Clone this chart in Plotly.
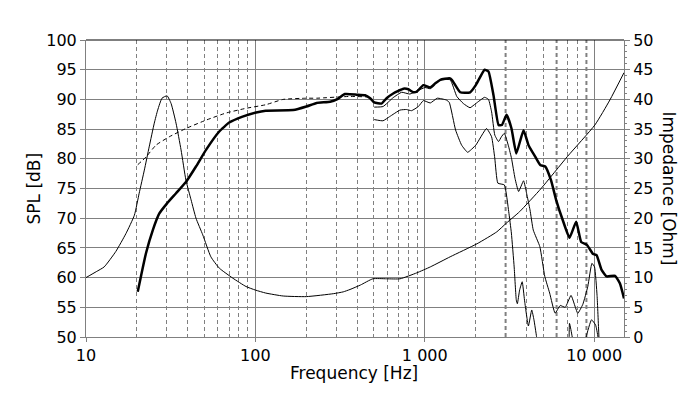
import math
import plotly.graph_objects as go

# ---------------- data ----------------
# Impedance curve (right axis, Ohm)
imp_f = [10, 11.5, 12.8, 15.0, 17.2, 19.3, 20.6, 22.1, 23.6, 25.3, 26.5, 28.1, 30.1, 31.8,
         34.0, 36.4, 38.9, 41.7, 44.6, 48.9, 54.6, 61.2, 73.6, 88, 100, 115, 146, 200,
         290, 330, 362, 417, 494, 595, 714, 897, 1078, 1412, 2035, 2660, 3040, 3630,
         4860, 6960, 10100, 12380, 15000]
imp_z = [10.0, 11.0, 11.8, 14.4, 17.4, 20.5, 24.2, 28.1, 32.0, 36.0, 38.2, 40.2, 40.6, 39.3,
         36.0, 31.5, 26.4, 23.1, 20.0, 17.2, 13.5, 11.6, 9.9, 8.5, 7.9, 7.4, 6.9, 6.8,
         7.3, 7.6, 8.0, 8.75, 9.8, 9.8, 9.8, 10.8, 11.8, 13.5, 15.7, 17.7, 19.2, 21.1,
         25.0, 30.4, 35.7, 39.9, 44.5]

# On-axis SPL (thick)
spl_f = [20.2, 21.1, 22.6, 24.8, 27.1, 30.1, 34, 38.9, 44.6, 51.1, 61.2, 70.1, 84, 101,
         115, 167, 200, 230, 276, 303, 338, 397, 444, 476, 503, 556, 595, 651, 748, 800,
         856, 897, 981, 1078, 1154, 1235, 1395, 1445, 1618, 1854, 2000, 2255, 2377, 2545,
         2725, 2853, 3040, 3250, 3470, 3828, 4098, 4487, 4805, 5140, 5560, 5960, 6520,
         7150, 7830, 8380, 9060, 9860, 10330, 11060, 11850, 13280, 14200, 15000]
spl_db = [57.6, 60.2, 64.1, 68.0, 70.8, 72.5, 74.2, 76.1, 78.7, 81.5, 84.6, 86.1, 87.1, 87.8,
          88.1, 88.2, 88.8, 89.4, 89.6, 90.0, 90.9, 90.8, 90.7, 90.2, 89.5, 89.3, 90.2, 91.0,
          91.8, 91.7, 91.2, 91.3, 92.4, 92.0, 92.7, 93.3, 93.55, 93.3, 91.2, 91.2, 92.4,
          95.0, 94.7, 90.7, 85.7, 85.7, 87.4, 85.1, 80.9, 84.8, 82.3, 80.35, 78.95, 78.7,
          76.4, 73.1, 69.7, 66.7, 69.4, 66.0, 65.5, 63.97, 63.8, 61.3, 60.2, 60.3, 59.0,
          56.5]

# Simulated / corrected low-frequency SPL (dashed)
sim_f = [20.2, 22.6, 25.9, 31, 38.9, 51, 67, 88, 115, 146, 200, 230, 362, 480]
sim_db = [79.0, 80.3, 82.3, 83.7, 85.1, 86.5, 87.7, 88.5, 89.1, 90.0, 90.2, 90.2, 90.5, 90.4]

# Off-axis SPL 30 deg (thin)
off30_f = [503, 567, 651, 730, 816, 897, 1003, 1078, 1207, 1412, 1545, 1690, 1850, 2000,
           2255, 2377, 2480, 2590, 2725, 2833, 2950, 3130, 3250, 3410, 3580, 3830, 3990,
           4180, 4370, 4780, 5110, 5460, 5880, 6300, 6750, 7300, 8000, 8570, 9170, 9700,
           10050, 10400, 10650, 10900]
off30_db = [88.7, 88.8, 90.3, 91.2, 90.9, 91.4, 92.0, 91.8, 93.2, 93.3, 90.5, 89.3, 88.6,
            89.3, 90.35, 90.0, 87.9, 84.0, 82.9, 83.7, 84.3, 82.0, 80.1, 76.7, 74.5, 76.3,
            74.2, 71.4, 68.0, 65.2, 60.2, 57.4, 54.0, 55.3, 55.0, 57.0, 54.0, 55.5, 58.5,
            62.4, 61.8, 57.0, 50.5, 44.0]

# Off-axis SPL 60 deg (thin)
off60_f = [503, 567, 620, 714, 780, 835, 917, 981, 1078, 1185, 1340, 1395, 1520, 1650, 1790,
           2000, 2315, 2480, 2590, 2700, 2950, 3130, 3245, 3370, 3470, 3520, 3630, 3760,
           3880, 4090, 4280, 4410, 4570, 4800, 6900, 7150, 7420, 7700, 8700, 8970, 9650,
           10200, 10530, 10800]
off60_db = [86.6, 86.4, 87.1, 88.2, 88.3, 88.1, 88.8, 89.8, 89.4, 90.2, 89.9, 89.5, 84.85,
            82.3, 81.1, 82.3, 85.1, 83.7, 80.1, 75.9, 75.6, 71.1, 67.5, 61.8, 56.2, 55.6,
            57.9, 59.3, 56.2, 51.85, 54.55, 52.9, 50.05, 45.0, 45.0, 52.3, 50.0, 45.0, 45.0,
            50.0, 52.9, 52.0, 50.0, 45.0]

x_tickvals = [10, 100, 1000, 10000]
x_ticktext = ["10", "100", "1 000", "10 000"]
minor_grid = [20, 30, 40, 50, 60, 70, 80, 90,
              200, 300, 400, 500, 600, 700, 800, 900,
              2000, 4000, 5000, 7000, 8000]
heavy_grid = [3000, 6000, 9000]

GRID = "#808080"
FONT = "DejaVu Sans"

fig = go.Figure()

fig.add_trace(go.Scatter(x=imp_f, y=imp_z, yaxis="y2", mode="lines",
                         line=dict(color="black", width=1, shape="spline", smoothing=0.5),
                         hoverinfo="skip"))
fig.add_trace(go.Scatter(x=sim_f, y=sim_db, mode="lines",
                         line=dict(color="black", width=1, dash="4px,3px",
                                   shape="spline", smoothing=0.5),
                         hoverinfo="skip"))
fig.add_trace(go.Scatter(x=off60_f, y=off60_db, mode="lines",
                         line=dict(color="black", width=1, shape="spline", smoothing=0.4),
                         hoverinfo="skip"))
fig.add_trace(go.Scatter(x=off30_f, y=off30_db, mode="lines",
                         line=dict(color="black", width=1, shape="spline", smoothing=0.4),
                         hoverinfo="skip"))
fig.add_trace(go.Scatter(x=spl_f, y=spl_db, mode="lines",
                         line=dict(color="black", width=2.5, shape="spline", smoothing=0.4),
                         hoverinfo="skip"))

shapes = []
for f in heavy_grid:
    shapes.append(dict(type="line", xref="x", yref="paper", x0=f, x1=f, y0=0, y1=1,
                       line=dict(color=GRID, width=2, dash="4px,3px"), layer="below"))
shapes.append(dict(type="line", xref="paper", yref="paper", x0=0, x1=1, y0=1, y1=1,
                   line=dict(color="black", width=1.2), layer="above"))

# page body adds an 8px margin; size the figure so the plot lands where the reference has it
fig.update_layout(
    width=692, height=391,
    margin=dict(l=78, r=76, t=32, b=62, autoexpand=False),
    plot_bgcolor="white", paper_bgcolor="white",
    showlegend=False,
    font=dict(family=FONT, size=16, color="black"),
    shapes=shapes,
    xaxis=dict(type="log", range=[1, math.log10(15000)], automargin=False,
               tickmode="array", tickvals=x_tickvals, ticktext=x_ticktext,
               showgrid=True, gridcolor=GRID, gridwidth=1,
               showline=True, linecolor=GRID, linewidth=1,
               ticks="outside", ticklen=4, tickcolor=GRID,
               zeroline=False,
               minor=dict(tickmode="array", tickvals=minor_grid, showgrid=True,
                          gridcolor=GRID, gridwidth=1, griddash="4px,3px", ticks="")),
    yaxis=dict(range=[50, 100], tick0=50, dtick=5, automargin=False,
               showgrid=True, gridcolor=GRID, gridwidth=1,
               showline=True, linecolor=GRID, linewidth=1,
               ticks="outside", ticklen=5, tickcolor=GRID, zeroline=False),
    yaxis2=dict(range=[0, 50], tick0=0, dtick=5, overlaying="y", side="right",
                automargin=False,
                showgrid=False, showline=True, linecolor=GRID, linewidth=1,
                ticks="outside", ticklen=5, tickcolor=GRID, zeroline=False,
                minor=dict(dtick=1, ticks="outside", ticklen=2, tickcolor=GRID)),
    annotations=[
        dict(text="SPL [dB]", xref="paper", yref="paper", x=(33 - 86) / 538, y=0.50,
             textangle=-90, showarrow=False, font=dict(size=17, color="black"),
             xanchor="center", yanchor="middle"),
        dict(text="Impedance [Ohm]", xref="paper", yref="paper", x=(669 - 86) / 538, y=0.50,
             textangle=90, showarrow=False, font=dict(size=17, color="black"),
             xanchor="center", yanchor="middle"),
        dict(text="Frequency [Hz]", xref="paper", yref="paper", x=(354 - 86) / 538,
             y=(337 - 373) / 297, showarrow=False, font=dict(size=17, color="black"),
             xanchor="center", yanchor="middle"),
    ],
)

fig.write_html("out.html")
